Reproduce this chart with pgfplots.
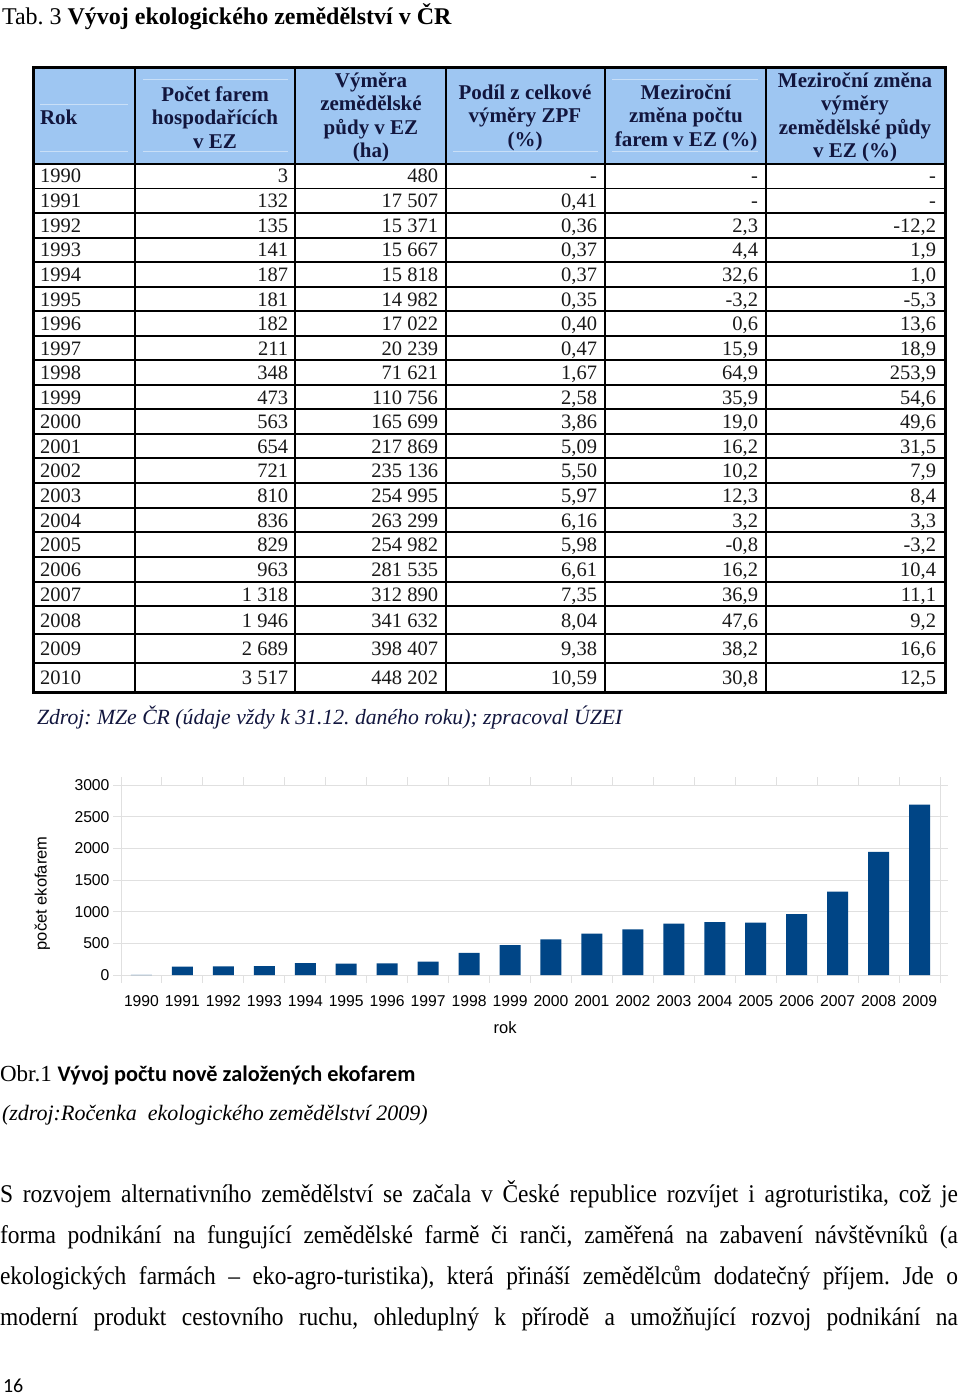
\documentclass[border=0pt]{standalone}
\usepackage{fontspec}
\setmainfont{Liberation Serif}
\newfontfamily\arial{Liberation Sans}
\newfontfamily\calibri{Carlito}
\newfontfamily\condserif[FakeStretch=0.92]{Liberation Serif}
\usepackage{pgfplots}
\pgfplotsset{compat=1.18}
\frenchspacing
\definecolor{headblue}{RGB}{158,198,242}
\definecolor{headtext}{RGB}{18,22,62}
\definecolor{barblue}{RGB}{0,69,134}
\definecolor{gridgray}{RGB}{224,224,224}
\definecolor{celltext}{RGB}{25,25,25}
\newcommand\trow[7]{%
  \node[anchor=base west] at (40,#1+7) {#2};
  \node[anchor=base east] at (288,#1+7) {#3};
  \node[anchor=base east] at (438,#1+7) {#4};
  \node[anchor=base east] at (597,#1+7) {#5};
  \node[anchor=base east] at (758,#1+7) {#6};
  \node[anchor=base east] at (936,#1+7) {#7};
}
\begin{document}
\begin{tikzpicture}
\path[use as bounding box] (0pt,0pt) rectangle (960pt,-1396pt);
\begin{scope}[x=1pt,y=-1pt,every node/.style={inner sep=0pt,outer sep=0pt}]
% title
\node[anchor=base west,font=\fontsize{24}{28}\selectfont] at (2,25) {Tab. 3 \textbf{Vývoj ekologického zemědělství v ČR}};
% table header
\fill[headblue] (33,68) rectangle (945,164);
\foreach \xa/\xb/\yy in {40/128/105,40/128/152,143/288/80,143/288/152,453/598/152,612/758/80,612/758/152}
  \draw[white,opacity=0.45,line width=1pt] (\xa,\yy) -- (\xb,\yy);
\begin{scope}[every node/.append style={text=headtext,font=\bfseries\fontsize{21}{23.5}\selectfont,align=center}]
\node[anchor=west] at (40,117) {Rok};
\node at (215,117.5) {Počet farem\\hospodařících\\v EZ};
\node at (371,117.5) {Výměra\\zemědělské\\půdy v EZ\\(ha)};
\node at (525,117.5) {Podíl z celkové\\výměry ZPF\\(\%)};
\node at (686,117.5) {Meziroční\\změna počtu\\farem v EZ (\%)};
\node at (855,117.5) {Meziroční změna\\výměry\\zemědělské půdy\\v EZ (\%)};
\end{scope}
% grid lines
\foreach \yy in {188.5,213,238,262,287,311,336,360,385,409,434,458,483,508,532,557,582,606,634,663}
  \draw[black,line width=1.4pt] (33,\yy) -- (945,\yy);
\draw[black,line width=2pt] (33,164) -- (945,164);
\foreach \xx in {135,295,446,605,766}
  \draw[black,line width=1.5pt] (\xx,68) -- (\xx,692);
\draw[black,line width=3pt] (33,68) rectangle (945,692);
% table body
\begin{scope}[every node/.append style={text=celltext,font=\fontsize{20.5}{24}\selectfont}]
\trow{176}{1990}{3}{480}{-}{-}{-}
\trow{200.5}{1991}{132}{17 507}{0,41}{-}{-}
\trow{225.5}{1992}{135}{15 371}{0,36}{2,3}{-12,2}
\trow{250}{1993}{141}{15 667}{0,37}{4,4}{1,9}
\trow{274.5}{1994}{187}{15 818}{0,37}{32,6}{1,0}
\trow{299}{1995}{181}{14 982}{0,35}{-3,2}{-5,3}
\trow{323.5}{1996}{182}{17 022}{0,40}{0,6}{13,6}
\trow{348}{1997}{211}{20 239}{0,47}{15,9}{18,9}
\trow{372.5}{1998}{348}{71 621}{1,67}{64,9}{253,9}
\trow{397}{1999}{473}{110 756}{2,58}{35,9}{54,6}
\trow{421.5}{2000}{563}{165 699}{3,86}{19,0}{49,6}
\trow{446}{2001}{654}{217 869}{5,09}{16,2}{31,5}
\trow{470.5}{2002}{721}{235 136}{5,50}{10,2}{7,9}
\trow{495.5}{2003}{810}{254 995}{5,97}{12,3}{8,4}
\trow{520}{2004}{836}{263 299}{6,16}{3,2}{3,3}
\trow{544.5}{2005}{829}{254 982}{5,98}{-0,8}{-3,2}
\trow{569.5}{2006}{963}{281 535}{6,61}{16,2}{10,4}
\trow{594}{2007}{1 318}{312 890}{7,35}{36,9}{11,1}
\trow{620}{2008}{1 946}{341 632}{8,04}{47,6}{9,2}
\trow{648.5}{2009}{2 689}{398 407}{9,38}{38,2}{16,6}
\trow{677}{2010}{3 517}{448 202}{10,59}{30,8}{12,5}
\end{scope}
% source
\node[anchor=base west,text=headtext,font=\itshape\fontsize{21.7}{26}\selectfont] at (37,724) {Zdroj: MZe ČR (údaje vždy k 31.12. daného roku); zpracoval ÚZEI};
% figure caption
\node[anchor=base west,font=\fontsize{23}{28}\selectfont] at (0,1081) {Obr.1 {\calibri\bfseries\fontsize{22.3}{26}\selectfont Vývoj počtu nově založených ekofarem}};
\node[anchor=base west,font=\itshape\fontsize{22}{26}\selectfont] at (2,1120) {(zdroj:Ročenka\ \ ekologického zemědělství 2009)};
% paragraph
\begin{scope}[every node/.append style={anchor=base west,font=\condserif\fontsize{25.5}{30}\selectfont}]
\node at (0,1202) {\hbox to 958pt{S rozvojem alternativního zemědělství se začala v České republice rozvíjet i agroturistika, což je}};
\node at (0,1243) {\hbox to 958pt{forma podnikání na fungující zemědělské farmě či ranči, zaměřená na zabavení návštěvníků (a}};
\node at (0,1284) {\hbox to 958pt{ekologických farmách – eko-agro-turistika), která přináší zemědělcům dodatečný příjem. Jde o}};
\node at (0,1325) {\hbox to 958pt{moderní produkt cestovního ruchu, ohleduplný k přírodě a umožňující rozvoj podnikání na}};
\end{scope}
\node[anchor=base west,font=\calibri\fontsize{20}{24}\selectfont] at (3,1392) {16};
\end{scope}
% chart
\begin{axis}[
  at={(121pt,-975pt)}, anchor=south west,
  width=819pt, height=190pt, scale only axis,
  xmin=-0.5, xmax=19.5, ymin=0, ymax=3000,
  ybar, bar width=21pt,
  ytick={0,500,...,3000},
  xtick={-0.5,0.5,...,19.5}, xticklabels={},
  extra x ticks={0,1,...,19},
  extra x tick labels={1990,1991,1992,1993,1994,1995,1996,1997,1998,1999,2000,2001,2002,2003,2004,2005,2006,2007,2008,2009},
  extra x tick style={major tick length=0pt, grid=none, xticklabel style={yshift=-17pt}},
  ymajorgrids, grid style={draw=gridgray, line width=1pt},
  axis line style={draw=gridgray, line width=1pt},
  tick style={draw=gridgray, line width=1pt},
  tick align=outside, major tick length=8pt,
  /pgf/number format/assume math mode=true,
  /pgf/number format/1000 sep={},
  ticklabel style={font=\arial\fontsize{15.7}{18}\selectfont, text=black},
  xlabel={rok}, ylabel={počet ekofarem},
  label style={font=\arial\fontsize{16.5}{19}\selectfont},
  xlabel style={at={(axis description cs:0.469,-0.279)}, anchor=center},
  ylabel style={at={(axis description cs:-0.096,0.43)}, anchor=center},
]
\addplot[fill=barblue, draw=none] coordinates {
(0,3) (1,132) (2,135) (3,141) (4,187) (5,181) (6,182) (7,211) (8,348) (9,473)
(10,563) (11,654) (12,721) (13,810) (14,836) (15,829) (16,963) (17,1318) (18,1946) (19,2689)};
\end{axis}
\end{tikzpicture}
\end{document}
